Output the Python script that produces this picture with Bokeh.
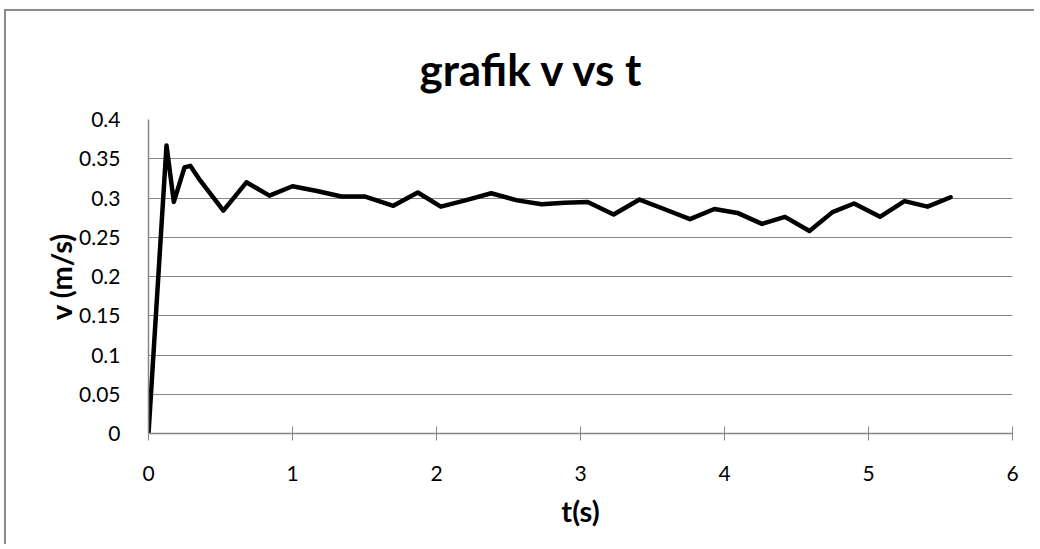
from bokeh.plotting import figure
from bokeh.embed import file_html
from bokeh.resources import INLINE
from bokeh.models import FixedTicker, CustomJSTickFormatter, Range1d

# data
t_s = [0, 0.125, 0.176, 0.25, 0.29, 0.36, 0.52, 0.68, 0.84, 1.0, 1.17, 1.34, 1.5, 1.7,
       1.87, 2.03, 2.2, 2.38, 2.56, 2.73, 2.89, 3.05, 3.23, 3.41, 3.58, 3.76, 3.93, 4.09,
       4.26, 4.42, 4.59, 4.75, 4.9, 5.08, 5.25, 5.41, 5.57]
v_ms = [0, 0.367, 0.295, 0.339, 0.341, 0.322, 0.284, 0.320, 0.303, 0.315, 0.309, 0.302,
        0.302, 0.290, 0.307, 0.289, 0.297, 0.306, 0.297, 0.292, 0.294, 0.295, 0.279, 0.298,
        0.286, 0.273, 0.286, 0.281, 0.267, 0.276, 0.258, 0.282, 0.293, 0.276, 0.296, 0.289,
        0.301]
x_ticks = [0, 1, 2, 3, 4, 5, 6]
y_ticks = [0, 0.05, 0.1, 0.15, 0.2, 0.25, 0.3, 0.35, 0.4]
title_text = "grafik v vs t"

FONT = "Lato"
GRAY = "#868686"

p = figure(width=1030, height=535, output_backend="svg", toolbar_location=None,
           x_range=Range1d(0, 6), y_range=Range1d(0, 0.4),
           min_border_left=142, min_border_right=24, min_border_top=108,
           min_border_bottom=113, title=title_text)
p.styles = {"margin-left": "4px", "margin-top": "9px",
            "border-left": "2px solid #8c8c8c", "border-top": "2px solid #8c8c8c"}
p.title.align = "left"
p.title.offset = 271
p.title.text_font = FONT
p.title.text_font_size = "44px"
p.title.text_font_style = "bold"
p.title.text_color = "#000000"
p.title.standoff = 50

p.line(t_s, v_ms, line_color="#000000", line_width=4.5, line_join="round", line_cap="round")

p.outline_line_color = None
p.xgrid.grid_line_color = None
p.ygrid.grid_line_color = GRAY
p.ygrid.grid_line_width = 1

p.xaxis.ticker = FixedTicker(ticks=x_ticks)
p.yaxis.ticker = FixedTicker(ticks=y_ticks)
p.yaxis.formatter = CustomJSTickFormatter(
    code="return tick.toFixed(2).replace(/0+$/, '').replace(/\\.$/, '');")

for ax in (p.xaxis, p.yaxis):
    ax.axis_line_color = GRAY
    ax.axis_line_width = 1.5
    ax.major_label_text_font = FONT
    ax.major_label_text_font_size = "21px"
    ax.major_label_text_color = "#000000"
    ax.axis_label_text_font = FONT
    ax.axis_label_text_font_size = "29px"
    ax.axis_label_text_font_style = "bold"
    ax.axis_label_text_color = "#000000"
    ax.minor_tick_line_color = None

p.xaxis.axis_label = "t(s)"
p.yaxis.axis_label = "v (m/s)"
p.xaxis.major_tick_line_color = GRAY
p.xaxis.major_tick_in = 7
p.xaxis.major_tick_out = 7
p.xaxis.major_label_standoff = 25
p.xaxis.axis_label_standoff = 9
p.yaxis.major_tick_line_color = None
p.yaxis.major_tick_in = 0
p.yaxis.major_tick_out = 0
p.yaxis.major_label_standoff = 28
p.yaxis.axis_label_standoff = -2

open("out.html", "w").write(file_html(p, INLINE))
